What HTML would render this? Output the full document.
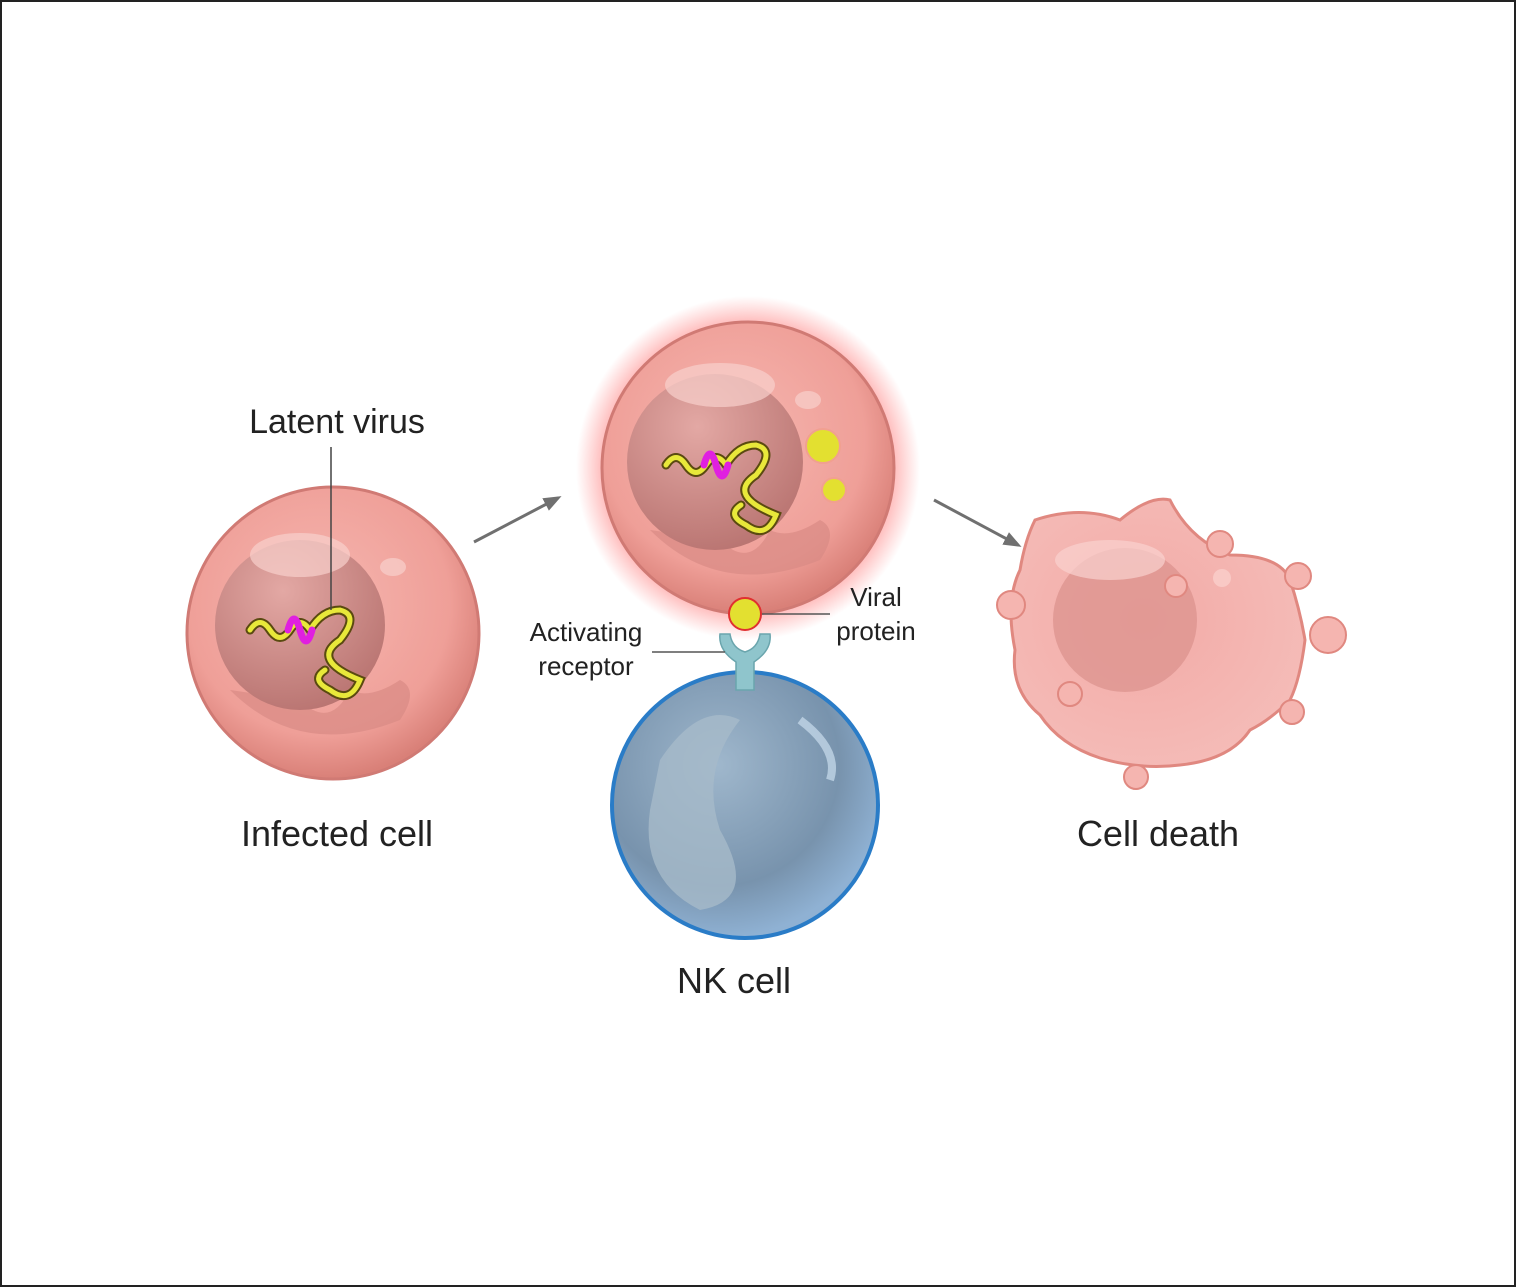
<!DOCTYPE html>
<html><head><meta charset="utf-8"><style>
html,body{margin:0;padding:0;background:#fff;}
svg{display:block;}
text{font-family:"Liberation Sans",sans-serif;fill:#222;}
</style></head><body>
<svg width="1516" height="1287" viewBox="0 0 1516 1287" xmlns="http://www.w3.org/2000/svg">
<defs>
<radialGradient id="cellG" cx="45%" cy="40%" r="60%">
<stop offset="0" stop-color="#f6b6b0"/><stop offset="0.75" stop-color="#ef9f98"/><stop offset="1" stop-color="#d98078"/>
</radialGradient>
<radialGradient id="nucG" cx="40%" cy="30%" r="75%">
<stop offset="0" stop-color="#e3a8a4"/><stop offset="1" stop-color="#b87370"/>
</radialGradient>
<radialGradient id="glow" cx="50%" cy="50%" r="50%">
<stop offset="0.78" stop-color="#ff5a5a" stop-opacity="0.6"/><stop offset="1" stop-color="#ff6a6a" stop-opacity="0"/>
</radialGradient>
<radialGradient id="nkG" cx="40%" cy="35%" r="65%">
<stop offset="0" stop-color="#9fb7cc"/><stop offset="0.7" stop-color="#7893ad"/><stop offset="1" stop-color="#8fb1d3"/>
</radialGradient>
<radialGradient id="deadG" cx="45%" cy="45%" r="60%">
<stop offset="0" stop-color="#f2aaa6"/><stop offset="1" stop-color="#f5bcb8"/>
</radialGradient>
<marker id="ar" markerWidth="18" markerHeight="14" refX="14" refY="7" orient="auto" markerUnits="userSpaceOnUse">
<path d="M0,0 L18,7 L0,14 z" fill="#707070"/></marker>
</defs>
<rect x="1" y="1" width="1514" height="1285" fill="#fff" stroke="#222" stroke-width="2"/>

<!-- Infected cell -->
<circle cx="333" cy="633" r="146" fill="url(#cellG)" stroke="#d07a74" stroke-width="3"/>
<path d="M230,690 Q300,760 400,720 Q420,690 400,680 Q370,700 350,690 Q330,730 300,700 Z" fill="#d98a85" opacity="0.7"/>
<circle cx="300" cy="625" r="85" fill="url(#nucG)"/>
<ellipse cx="300" cy="555" rx="50" ry="22" fill="#f8d0cc" opacity="0.7"/>
<ellipse cx="393" cy="567" rx="13" ry="9" fill="#f8d0cc" opacity="0.7"/>
<path d="M250,630 q10,-15 20,0 t20,0 t20,0 q12,-20 30,-20 q20,5 0,30 q-30,20 20,40 q-10,25 -30,10 q-20,-10 -5,-20" fill="none" stroke="#5a4a10" stroke-width="9" stroke-linecap="round"/>
<path d="M250,630 q10,-15 20,0 t20,0 t20,0 q12,-20 30,-20 q20,5 0,30 q-30,20 20,40 q-10,25 -30,10 q-20,-10 -5,-20" fill="none" stroke="#e8e83a" stroke-width="5" stroke-linecap="round"/>
<path d="M288,630 q6,-22 12,0 q6,22 12,0" fill="none" stroke="#e020e0" stroke-width="7" stroke-linecap="round"/>
<line x1="331" y1="447" x2="331" y2="610" stroke="#444" stroke-width="1.5"/>
<text x="337" y="433" font-size="34" text-anchor="middle">Latent virus</text>
<text x="337" y="846" font-size="36" text-anchor="middle">Infected cell</text>

<line x1="474" y1="542" x2="558" y2="498" stroke="#707070" stroke-width="3" marker-end="url(#ar)"/>

<!-- Activated cell -->
<circle cx="748" cy="468" r="172" fill="url(#glow)"/>
<circle cx="748" cy="468" r="146" fill="url(#cellG)" stroke="#d07a74" stroke-width="3"/>
<path d="M650,530 Q720,600 820,560 Q840,530 820,520 Q790,540 770,530 Q750,570 720,540 Z" fill="#d98a85" opacity="0.7"/>
<circle cx="715" cy="462" r="88" fill="url(#nucG)"/>
<ellipse cx="720" cy="385" rx="55" ry="22" fill="#f8d0cc" opacity="0.7"/>
<ellipse cx="808" cy="400" rx="13" ry="9" fill="#f8d0cc" opacity="0.7"/>
<path d="M666,465 q10,-15 20,0 t20,0 t20,0 q12,-20 30,-20 q20,5 0,30 q-30,20 20,40 q-10,25 -30,10 q-20,-10 -5,-20" fill="none" stroke="#5a4a10" stroke-width="9" stroke-linecap="round"/>
<path d="M666,465 q10,-15 20,0 t20,0 t20,0 q12,-20 30,-20 q20,5 0,30 q-30,20 20,40 q-10,25 -30,10 q-20,-10 -5,-20" fill="none" stroke="#e8e83a" stroke-width="5" stroke-linecap="round"/>
<path d="M704,465 q6,-22 12,0 q6,22 12,0" fill="none" stroke="#e020e0" stroke-width="7" stroke-linecap="round"/>
<circle cx="823" cy="446" r="17" fill="#e3e030" stroke="#f1a090" stroke-width="2"/>
<circle cx="834" cy="490" r="12" fill="#e3e030" stroke="#f1a090" stroke-width="2"/>

<!-- NK cell -->
<circle cx="745" cy="805" r="133" fill="url(#nkG)" stroke="#2a7cc7" stroke-width="4"/>
<path d="M660,760 Q700,700 740,720 Q700,770 720,830 Q760,900 700,910 Q640,880 650,810 Z" fill="#a6bac9" opacity="0.8"/>
<path d="M800,720 Q840,750 830,780" fill="none" stroke="#c0d4e6" stroke-width="8" opacity="0.8"/>
<!-- receptor -->
<path d="M736,690 L736,662 Q718,650 720,634 L730,634 Q732,648 745,652 Q758,648 760,634 L770,634 Q772,650 754,662 L754,690 Z" fill="#8fc5cc" stroke="#6aa5ad" stroke-width="1.5"/>
<circle cx="745" cy="614" r="16" fill="#e3e030" stroke="#e03030" stroke-width="2"/>
<line x1="652" y1="652" x2="725" y2="652" stroke="#555" stroke-width="1.5"/>
<line x1="762" y1="614" x2="830" y2="614" stroke="#555" stroke-width="1.5"/>
<text x="586" y="641" font-size="26" text-anchor="middle">Activating</text>
<text x="586" y="675" font-size="26" text-anchor="middle">receptor</text>
<text x="876" y="606" font-size="26" text-anchor="middle">Viral</text>
<text x="876" y="640" font-size="26" text-anchor="middle">protein</text>
<text x="734" y="993" font-size="36" text-anchor="middle">NK cell</text>

<line x1="934" y1="500" x2="1018" y2="545" stroke="#707070" stroke-width="3" marker-end="url(#ar)"/>

<!-- Dead cell -->
<path d="M1035,520 Q1080,505 1120,520 Q1150,495 1170,500 Q1190,540 1230,555 Q1280,555 1290,580 Q1300,610 1305,640 Q1300,680 1290,700 Q1270,720 1250,730 Q1230,760 1180,765 Q1140,770 1100,758 Q1060,745 1040,715 Q1010,690 1015,650 Q1005,600 1020,570 Q1025,540 1035,520 Z" fill="url(#deadG)" stroke="#e08880" stroke-width="3"/>
<circle cx="1125" cy="620" r="72" fill="#dd9590" opacity="0.8"/>
<ellipse cx="1110" cy="560" rx="55" ry="20" fill="#f9d2cf" opacity="0.7"/>
<circle cx="1220" cy="544" r="13" fill="#f5b5b0" stroke="#e08880" stroke-width="2"/>
<circle cx="1298" cy="576" r="13" fill="#f5b5b0" stroke="#e08880" stroke-width="2"/>
<circle cx="1328" cy="635" r="18" fill="#f5b5b0" stroke="#e08880" stroke-width="2"/>
<circle cx="1292" cy="712" r="12" fill="#f5b5b0" stroke="#e08880" stroke-width="2"/>
<circle cx="1136" cy="777" r="12" fill="#f5b5b0" stroke="#e08880" stroke-width="2"/>
<circle cx="1011" cy="605" r="14" fill="#f5b5b0" stroke="#e08880" stroke-width="2"/>
<circle cx="1070" cy="694" r="12" fill="#f5b5b0" stroke="#e08880" stroke-width="2"/>
<circle cx="1176" cy="586" r="11" fill="#f5b5b0" stroke="#e08880" stroke-width="2"/>
<circle cx="1222" cy="578" r="9" fill="#f9c9c5"/>
<text x="1158" y="846" font-size="36" text-anchor="middle">Cell death</text>
</svg>
</body></html>
